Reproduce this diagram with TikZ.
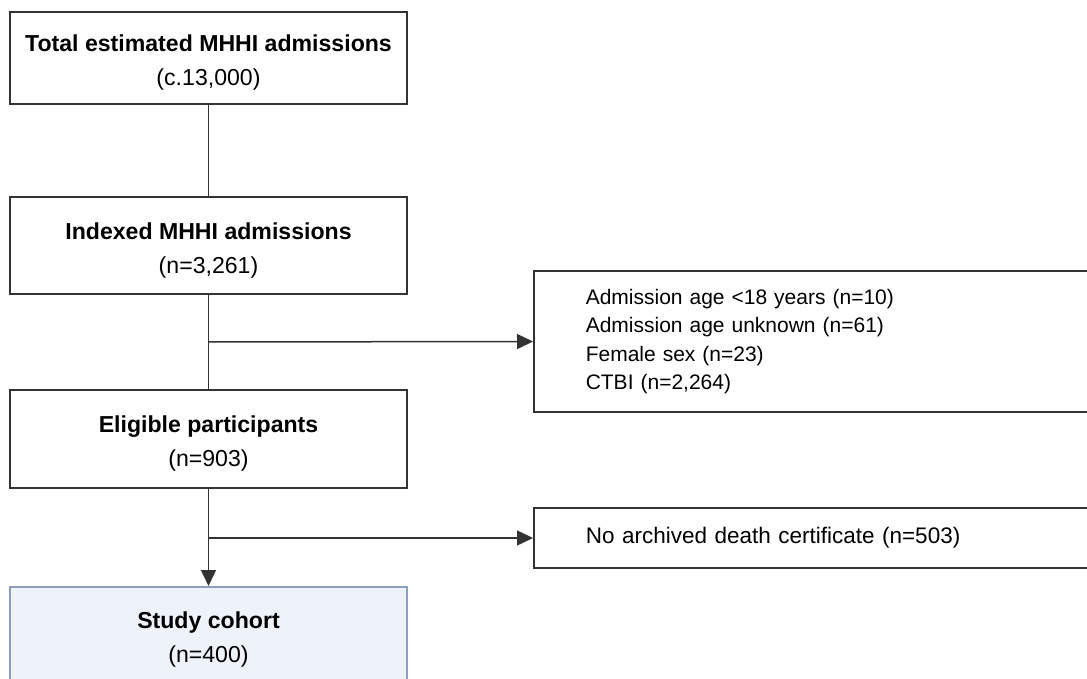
\documentclass[tikz,border=0pt]{standalone}
\usepackage{fontspec}
\setmainfont{Liberation Sans}
\usetikzlibrary{arrows.meta}
\definecolor{lineclr}{HTML}{333333}
\definecolor{cohortfill}{HTML}{EEF3FA}
\definecolor{cohortdraw}{HTML}{8E9EC0}
\newcommand{\toplift}{\rule{0pt}{26pt}}
\tikzset{
  mainbox/.style={draw=lineclr, line width=1.5pt, fill=white, minimum width=397pt,
    align=center, inner sep=0pt, font=\fontsize{23.1}{34}\selectfont},
  exclbox/.style={draw=lineclr, line width=1.5pt, fill=white, anchor=west,
    minimum width=580pt, text width=476pt, inner xsep=52pt, inner ysep=0pt, align=left,
    font=\fontsize{21}{28.3}\selectfont},
  cohortbox/.style={mainbox, draw=cohortdraw, fill=cohortfill, line width=2pt},
  conn/.style={draw=lineclr, line width=1.5pt},
  arr/.style={conn, -{Triangle[length=16pt,width=15pt]}}
}
\begin{document}
\begin{tikzpicture}[x=1pt,y=-1pt]
\clip (0,0) rectangle (1087,679);
\fill[white] (0,0) rectangle (1087,679);
\node[mainbox, minimum height=92pt] (total) at (208.5,58) {\toplift\textbf{Total estimated MHHI admissions}\\(c.13,000)};
\node[mainbox, minimum height=97pt] (indexed) at (208.5,245.5) {\toplift\textbf{Indexed MHHI admissions}\\(n=3,261)};
\node[mainbox, minimum height=98pt] (eligible) at (208.5,439) {\toplift\textbf{Eligible participants}\\(n=903)};
\node[cohortbox, minimum height=96pt] (cohort) at (208.5,635) {\toplift\textbf{Study cohort}\\(n=400)};
\node[exclbox, minimum height=141pt] (excl1) at (533,341.5) {Admission age <18 years (n=10)\\Admission age unknown (n=61)\\Female sex (n=23)\\CTBI (n=2,264)};
\node[exclbox, minimum height=60pt, font=\fontsize{22.5}{28}\selectfont] (excl2) at (533,538) {No archived death certificate (n=503)};
\coordinate (b1) at (208.5,342);
\coordinate (b2) at (208.5,538);
\draw[conn] (total.south) -- (indexed.north);
\draw[conn] (indexed.south) -- (eligible.north);
\draw[arr] (b1) -- (excl1.west);
\draw[arr] (eligible.south) -- (cohort.north);
\draw[arr] (b2) -- (excl2.west);
\end{tikzpicture}
\end{document}
